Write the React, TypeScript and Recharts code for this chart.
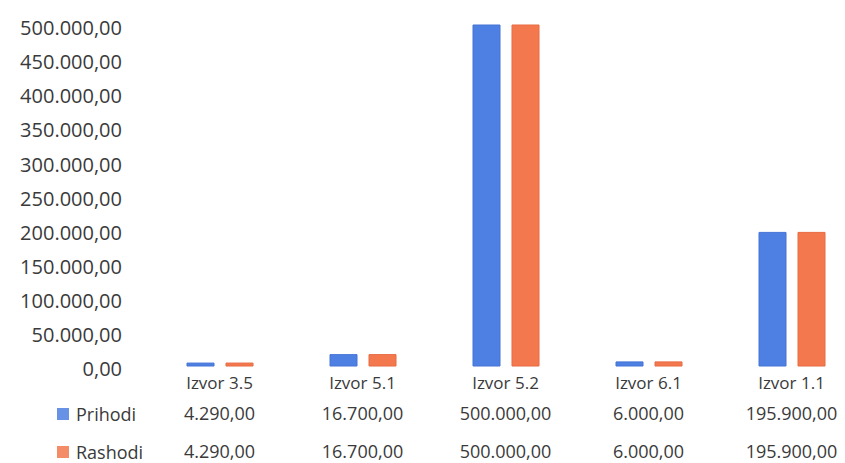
import { BarChart, Bar, XAxis, YAxis, Legend } from 'recharts';

document.body.style.margin = '0';

const categories = ['Izvor 3.5', 'Izvor 5.1', 'Izvor 5.2', 'Izvor 6.1', 'Izvor 1.1'];
const prihodi = [4290, 16700, 500000, 6000, 195900];
const rashodi = [4290, 16700, 500000, 6000, 195900];
const yTicks = [0, 50000, 100000, 150000, 200000, 250000, 300000, 350000, 400000, 450000, 500000];

const BLUE = '#4d80e2';
const ORANGE = '#f4784e';
const FONT = '"Open Sans", sans-serif';
const TEXT = '#3a3a3a';

const data = categories.map((name, i) => ({ name, prihodi: prihodi[i], rashodi: rashodi[i] }));

// 1234567.5 -> "1.234.567,50"
function fmt(v: number) {
  const [int, dec] = v.toFixed(2).split('.');
  return int.replace(/\B(?=(\d{3})+(?!\d))/g, '.') + ',' + dec;
}

function TableTick(props: any) {
  const { x, y, payload, index } = props;
  return (
    <g fontFamily={FONT} fill={TEXT} textAnchor="middle">
      <text x={x} y={y + 23} fontSize={17} fill={TEXT}>{payload.value}</text>
      <text x={x} y={y + 54} fontSize={18} fill={TEXT}>{fmt(prihodi[index])}</text>
      <text x={x} y={y + 92} fontSize={18} fill={TEXT}>{fmt(rashodi[index])}</text>
    </g>
  );
}

function TableLegend() {
  const rows = [
    { label: 'Prihodi', color: BLUE },
    { label: 'Rashodi', color: ORANGE },
  ];
  return (
    <div style={{ fontFamily: FONT, fontSize: 18, color: TEXT }}>
      {rows.map((r) => (
        <div key={r.label} style={{ display: 'flex', alignItems: 'center', height: 38 }}>
          <span style={{ width: 10, height: 10, background: r.color, opacity: 0.85, border: `1px solid ${r.color}`, marginRight: 7 }} />
          {r.label}
        </div>
      ))}
    </div>
  );
}

export default function App() {
  return (
    <div style={{ width: 845, height: 463, overflow: 'hidden', background: '#fff' }}>
      <BarChart
        width={870}
        height={463}
        data={data}
        margin={{ top: 25, right: 7, bottom: 0, left: 0 }}
        barSize={27}
        barGap={12}
      >
        <YAxis
          width={148}
          domain={[0, 500000]}
          ticks={yTicks}
          interval={0}
          axisLine={false}
          tickLine={false}
          tickSize={0}
          tickMargin={26}
          tickFormatter={fmt}
          tick={{ fontFamily: FONT, fontSize: 20, fill: TEXT, dy: 3 }}
        />
        <XAxis
          dataKey="name"
          height={97}
          axisLine={false}
          tickLine={false}
          tickSize={0}
          tickMargin={0}
          interval={0}
          tick={<TableTick />}
        />
        <Legend
          layout="vertical"
          align="center"
          verticalAlign="middle"
          content={<TableLegend />}
          wrapperStyle={{ position: 'absolute', left: 57, top: 395, width: 120 }}
        />
        <Bar dataKey="prihodi" fill={BLUE} stroke="#4575d6" strokeWidth={1} isAnimationActive={false} legendType="square" />
        <Bar dataKey="rashodi" fill={ORANGE} stroke="#e86a40" strokeWidth={1} isAnimationActive={false} legendType="square" />
      </BarChart>
    </div>
  );
}
